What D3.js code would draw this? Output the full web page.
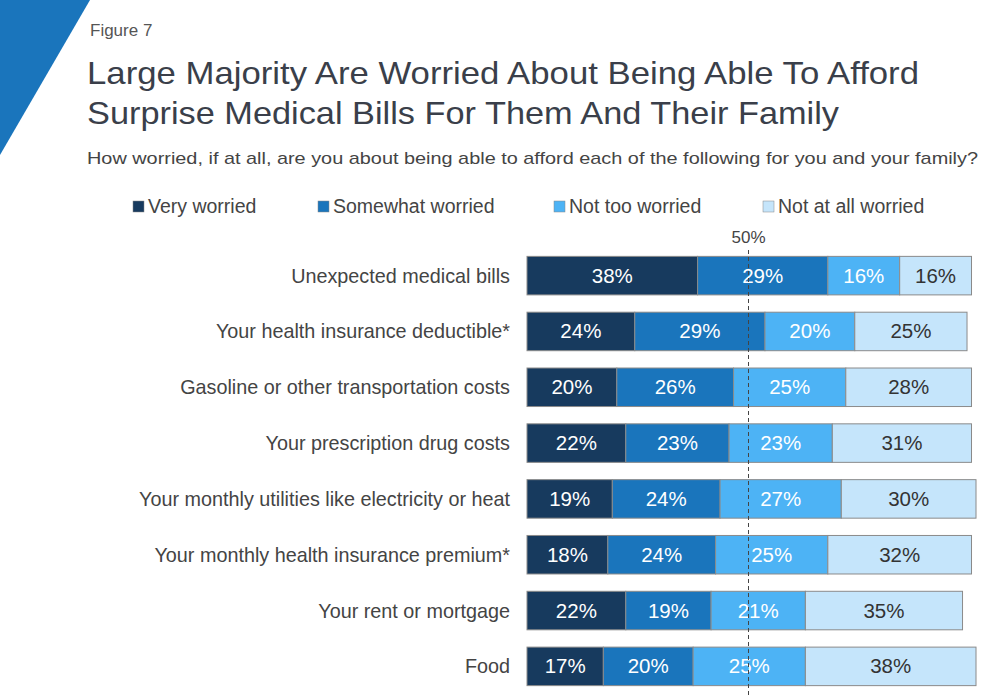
<!DOCTYPE html><html><head><meta charset="utf-8"><script src="https://cdn.jsdelivr.net/npm/d3@7"></script>
<style>body{margin:0;background:#fff}text{font-family:Arial,"Liberation Sans",sans-serif}</style></head><body><svg id="c" width="999" height="696"></svg>
<script>
const categories=["Unexpected medical bills","Your health insurance deductible*","Gasoline or other transportation costs","Your prescription drug costs","Your monthly utilities like electricity or heat","Your monthly health insurance premium*","Your rent or mortgage","Food"];
const seriesNames=["Very worried","Somewhat worried","Not too worried","Not at all worried"];
const veryWorried=[38,24,20,22,19,18,22,17];
const somewhatWorried=[29,29,26,23,24,24,19,20];
const notTooWorried=[16,20,25,23,27,25,21,25];
const notAtAllWorried=[16,25,28,31,30,32,35,38];
const colors=["#173a5e","#1a75bc","#4db3f5","#c5e5fb"];
const textColors=["#fff","#fff","#fff","#333"];
const series=[veryWorried,somewhatWorried,notTooWorried,notAtAllWorried];
const svg=d3.select("#c");
svg.append("path").attr("d","M0,0L90,0L0,155Z").attr("fill","#1a75bc");
svg.append("text").attr("x",90).attr("y",36).attr("font-size",17).attr("fill","#555").text("Figure 7");
svg.append("text").attr("x",87).attr("y",84).attr("font-size",32).attr("fill","#3a3f4a").attr("textLength",832).attr("lengthAdjust","spacingAndGlyphs").text("Large Majority Are Worried About Being Able To Afford");
svg.append("text").attr("x",87).attr("y",124).attr("font-size",32).attr("fill","#3a3f4a").attr("textLength",752).attr("lengthAdjust","spacingAndGlyphs").text("Surprise Medical Bills For Them And Their Family");
svg.append("text").attr("x",87).attr("y",164).attr("font-size",17).attr("fill","#444").attr("textLength",891).attr("lengthAdjust","spacingAndGlyphs").text("How worried, if at all, are you about being able to afford each of the following for you and your family?");
const lx=[133,318,554,763];
seriesNames.forEach((n,i)=>{svg.append("rect").attr("x",lx[i]).attr("y",201).attr("width",11).attr("height",11).attr("fill",colors[i]).attr("stroke","#888").attr("stroke-width",0.5);
svg.append("text").attr("x",lx[i]+15).attr("y",213).attr("font-size",19.5).attr("fill","#444").text(n);});
const x=d3.scaleLinear().domain([0,100]).range([527,976]);
const y=d3.scaleBand().domain(categories).range([248,694]).paddingInner(0.31).paddingOuter(0.15);
categories.forEach((c,ci)=>{let acc=0;
svg.append("text").attr("x",510).attr("y",y(c)+y.bandwidth()/2+7).attr("text-anchor","end").attr("font-size",19.8).attr("fill","#444").text(c);
series.forEach((s,si)=>{const v=s[ci];
svg.append("rect").attr("x",x(acc)).attr("y",y(c)).attr("width",x(acc+v)-x(acc)).attr("height",y.bandwidth()).attr("fill",colors[si]).attr("stroke","#8a8a8a").attr("stroke-width",1);
svg.append("text").attr("x",(x(acc)+x(acc+v))/2).attr("y",y(c)+y.bandwidth()/2+7).attr("text-anchor","middle").attr("font-size",20.5).attr("fill",textColors[si]).text(v+"%");
acc+=v;});});
svg.append("line").attr("x1",x(50)-3).attr("x2",x(50)-3).attr("y1",250).attr("y2",696).attr("stroke","#444").attr("stroke-dasharray","4,3").attr("stroke-width",1);
svg.append("text").attr("x",x(50)-3).attr("y",243).attr("text-anchor","middle").attr("font-size",17).attr("fill","#444").text("50%");
</script></body></html>
